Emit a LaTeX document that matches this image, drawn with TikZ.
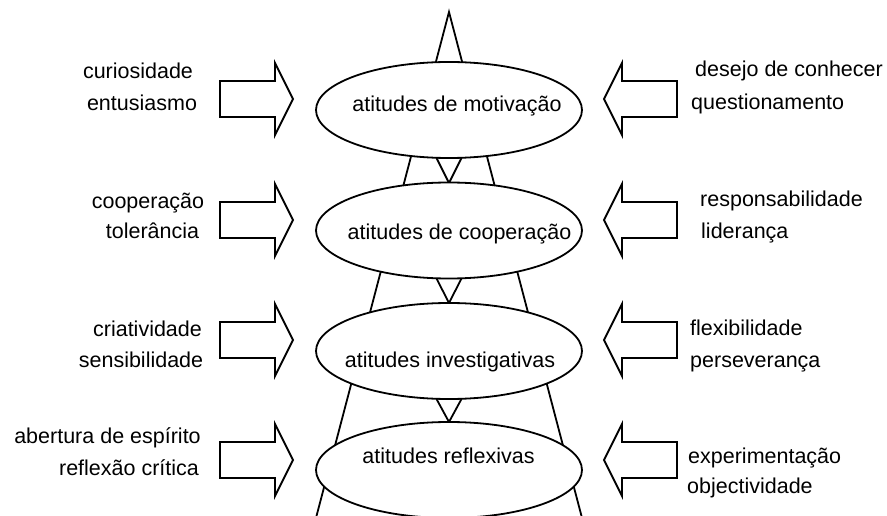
\documentclass[tikz,border=0pt]{standalone}
\usepackage{fontspec}
\setmainfont{Liberation Sans}
\begin{document}
\begin{tikzpicture}[x=1pt,y=-1pt,
  outline/.style={draw=black,line width=1.8pt,line join=miter},
  level/.style={ellipse,outline,fill=white},
  lbl/.style={inner sep=0pt,font=\fontsize{21.5}{24}\selectfont},
  pics/blockarrow/.style={code={
    \draw[outline,fill=white] (0,0) -- (-18,-36) -- (-18,-18) -- (-73,-18)
      -- (-73,18) -- (-18,18) -- (-18,36) -- cycle;}}
]
\useasboundingbox (0,0) rectangle (887,516);
\clip (0,0) rectangle (887,516);

% pyramid outline behind the levels
\coordinate (apex) at (449,12);
\coordinate (baseL) at (316.5,516);
\coordinate (baseR) at (581.5,516);
\draw[outline] (baseL) -- (apex) -- (baseR);

% small wedges between consecutive levels
\foreach \t/\b in {158/183,278.5/303,399/422}{
  \draw[outline,fill=white] (436.5,\t) -- (449,\b) -- (461.5,\t);
}

% the four levels
\foreach \n/\y in {m/110,c/230.5,i/351,r/470}{
  \draw[outline,fill=white] (449,\y) ellipse [x radius=133,y radius=48];
  \coordinate (e\n) at (449,\y);
}
\node[lbl,anchor=base] (tm) at (457,112) {atitudes de motivação};
\node[lbl,anchor=base] (tc) at (459.5,240) {atitudes de cooperação};
\node[lbl,anchor=base] (ti) at (450,367) {atitudes investigativas};
\node[lbl,anchor=base] (tr) at (448.5,463) {atitudes reflexivas};

% inward block arrows
\foreach \y in {99,220,340,460}{
  \pic at (293,\y) {blockarrow};
  \pic[xscale=-1] at (604,\y) {blockarrow};
}

% left-hand attitudes
\node[lbl,anchor=base] (l1a) at (138,79) {curiosidade};
\node[lbl,anchor=base] (l1b) at (142,111) {entusiasmo};
\node[lbl,anchor=base] (l2a) at (148,208) {cooperação};
\node[lbl,anchor=base] (l2b) at (152.5,239) {tolerância};
\node[lbl,anchor=base] (l3a) at (147.5,336) {criatividade};
\node[lbl,anchor=base] (l3b) at (141,367) {sensibilidade};
\node[lbl,anchor=base] (l4a) at (107.5,443) {abertura de espírito};
\node[lbl,anchor=base] (l4b) at (129,475) {reflexão crítica};

% right-hand attitudes
\node[lbl,anchor=base west] (r1a) at (695,77) {desejo de conhecer};
\node[lbl,anchor=base west] (r1b) at (691,110) {questionamento};
\node[lbl,anchor=base west] (r2a) at (700,207) {responsabilidade};
\node[lbl,anchor=base west] (r2b) at (701,238) {liderança};
\node[lbl,anchor=base west] (r3a) at (690,335) {flexibilidade};
\node[lbl,anchor=base west] (r3b) at (690,367) {perseverança};
\node[lbl,anchor=base west] (r4a) at (688,463) {experimentação};
\node[lbl,anchor=base west] (r4b) at (687,493) {objectividade};
\end{tikzpicture}
\end{document}
